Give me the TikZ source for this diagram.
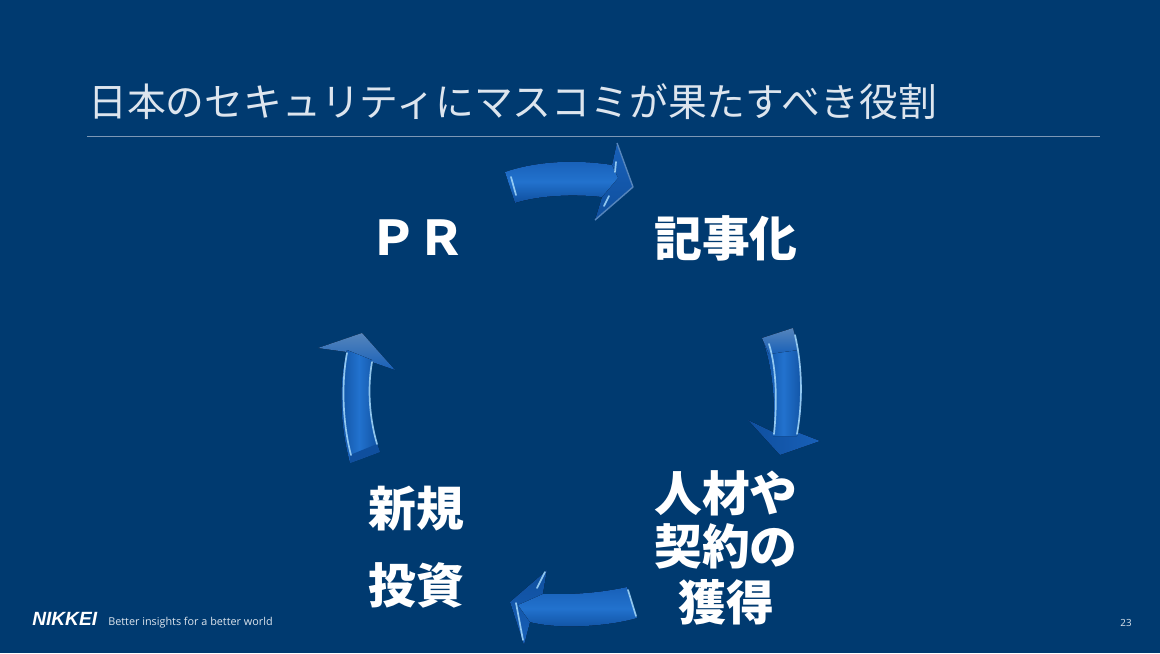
\documentclass[tikz,border=0pt]{standalone}
\usepackage{fontspec}
\setmainfont{Noto Sans CJK JP}
\newfontfamily\latinfont{Open Sans}
\newfontfamily\logofont{Liberation Sans}
\usepackage{tikz}
\definecolor{slidebg}{HTML}{003A70}
\definecolor{rulegrey}{HTML}{7C97B5}
\definecolor{titlegrey}{HTML}{DDE5EE}
\definecolor{arrowblue}{HTML}{1860B8}
\definecolor{arrowbright}{HTML}{2272CE}
\definecolor{arrowdeep}{HTML}{0F4F9E}
\definecolor{arrowpale}{HTML}{5585BC}
\definecolor{glint}{HTML}{9FD4F8}
\tikzset{
  steplabel/.style={text=white,font=\fontsize{34}{36}\selectfont\bfseries,inner sep=0pt,align=center},
  glintline/.style={draw=glint,line width=1.2pt,line cap=round,draw opacity=0.9},
  headedge/.style={draw=arrowpale,line width=1pt,line join=round}
}
\begin{document}
\begin{tikzpicture}[x=0.025cm,y=-0.025cm]
\useasboundingbox (0,0) rectangle (1160,653);
\fill[slidebg] (0,0) rectangle (1160,653);
% title
\node[anchor=west,inner sep=0pt,text=titlegrey,font=\fontsize{27.6}{30}\selectfont] (title) at (88,102) {日本のセキュリティにマスコミが果たすべき役割};
\coordinate (ruleL) at (87,136);
\coordinate (ruleR) at (1100,136);
\draw[rulegrey,line width=0.7pt] (ruleL) -- (ruleR);
% steps
\node[steplabel] (pr) at (417,238) {ＰＲ};
\node[steplabel] (kiji) at (726,238) {記事化};
\node[steplabel] (jinzai) at (726,548) {人材や\\[1.5pt]契約の\\[3.5pt]獲得};
\node[steplabel] (shinki) at (416,547) {新規\\[19pt]投資};
% top arrow
\fill[top color=arrowblue,bottom color=arrowdeep] (617,143) -- (633,187) -- (595,220) -- (602,197) -- (612,165) -- cycle;
\draw[headedge] (617,143) -- (633,187) -- (595,220);
\fill[top color=arrowblue,bottom color=arrowdeep,middle color=arrowbright] (505,172) .. controls (540,160) and (580,160) .. (612,165) -- (618,178) -- (602,197) .. controls (575,194) and (540,195) .. (515,203) -- cycle;
\draw[glintline] (511,177) -- (516,195);
\draw[glintline] (616,162) -- (615,172);
\draw[glintline] (609,196) -- (604,206);
% right arrow
\fill[left color=arrowdeep,right color=arrowblue] (748,420) -- (773,432) -- (797,432) -- (820,441) -- (780,455) -- cycle;
\fill[left color=arrowdeep,right color=arrowdeep,middle color=arrowbright] (762,338) -- (793,328) .. controls (803,360) and (805,400) .. (797,436) -- (773,436) .. controls (776,400) and (772,365) .. (762,338) -- cycle;
\fill[top color=arrowpale,bottom color=arrowblue] (762,338) -- (793,328) -- (798,350) -- (769,354) -- cycle;
\draw[glintline] (769,344) .. controls (777,370) and (777,405) .. (774,434);
\draw[glintline] (795,335) .. controls (802,365) and (803,400) .. (797,434);
% bottom arrow
\fill[top color=arrowdeep,bottom color=arrowblue] (547,570) -- (510,602) -- (524,645) -- (530,622) -- (543,593) -- cycle;
\fill[top color=arrowblue,bottom color=arrowdeep,middle color=arrowbright] (543,594) .. controls (570,595) and (600,593) .. (627,587) -- (637,618) .. controls (610,626) and (560,630) .. (530,622) -- (518,605) -- cycle;
\draw[glintline] (545,572) -- (537,588);
\draw[glintline] (516,603) -- (523,640);
\draw[glintline] (628,590) -- (636,616);
% left arrow
\fill[top color=arrowpale,bottom color=arrowblue] (318,348) -- (362,333) -- (395,370) -- (372,362) -- (347,352) -- cycle;
\fill[left color=arrowdeep,right color=arrowdeep,middle color=arrowbright] (347,350) -- (372,360) .. controls (366,390) and (370,425) .. (380,452) -- (350,463) .. controls (340,425) and (338,385) .. (347,350) -- cycle;
\fill[arrowdeep] (350,463) -- (380,452) -- (377,444) -- (350,455) -- cycle;
\draw[glintline] (347,353) .. controls (341,385) and (343,425) .. (351,455);
\draw[glintline] (372,362) .. controls (367,390) and (370,420) .. (377,444);
% footer
\node[anchor=west,inner sep=0pt,text=white,font=\logofont\fontsize{13.6}{14}\selectfont\bfseries\itshape] (logo) at (32,619) {NIKKEI};
\node[anchor=west,inner sep=0pt,text=titlegrey,font=\latinfont\fontsize{7.7}{9}\selectfont] (motto) at (108,622.5) {Better insights for a better world};
\node[inner sep=0pt,text=titlegrey,font=\latinfont\fontsize{7}{9}\selectfont] (page) at (1126,622.5) {23};
\end{tikzpicture}
\end{document}
